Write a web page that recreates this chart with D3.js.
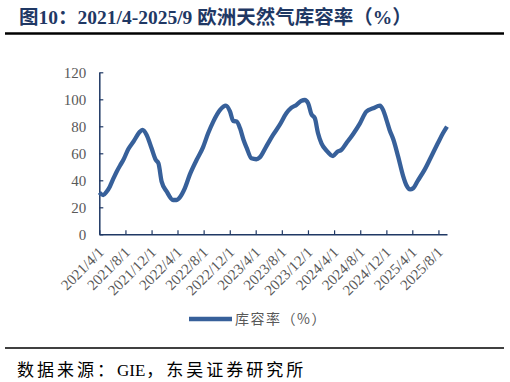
<!DOCTYPE html>
<html>
<head>
<meta charset="utf-8">
<script src="https://cdn.jsdelivr.net/npm/d3@7"></script>
<style>
  body { margin: 0; background: #fff; }
  svg { display: block; }
</style>
</head>
<body>
<div id="chart"></div>
<script>
// storage fill rate readings, %
const dates = [
  '2021-04-01', '2021-04-19', '2021-05-05', '2021-05-20', '2021-06-05', '2021-06-21', '2021-07-07', '2021-07-22',
  '2021-08-14', '2021-09-07', '2021-10-08', '2021-10-20', '2021-11-08', '2021-12-01', '2021-12-21', '2022-01-02',
  '2022-01-17', '2022-02-10', '2022-03-11', '2022-03-27', '2022-04-12', '2022-05-05', '2022-05-28', '2022-06-29',
  '2022-07-29', '2022-08-22', '2022-09-15', '2022-10-16', '2022-11-13', '2022-12-02', '2022-12-17', '2023-01-02',
  '2023-01-18', '2023-02-03', '2023-02-18', '2023-03-12', '2023-04-04', '2023-04-20', '2023-05-20', '2023-06-21',
  '2023-07-22', '2023-08-22', '2023-09-15', '2023-10-08', '2023-11-01', '2023-11-16', '2023-12-02', '2023-12-17',
  '2024-01-02', '2024-01-17', '2024-02-02', '2024-02-26', '2024-03-27', '2024-04-15', '2024-05-05', '2024-05-28',
  '2024-06-29', '2024-07-30', '2024-08-30', '2024-09-30', '2024-11-01', '2024-11-16', '2024-12-01', '2024-12-16',
  '2025-01-03', '2025-01-25', '2025-02-18', '2025-03-04', '2025-03-22', '2025-04-04', '2025-04-27', '2025-05-28',
  '2025-06-28', '2025-07-29', '2025-08-22', '2025-09-10'
];
const values = [
  30.9, 29.0, 31.5, 35.3, 41.0, 46.4, 51.0, 55.0,
  63.0, 68.6, 76.0, 77.3, 73.6, 63.7, 55.0, 52.6,
  39.0, 31.6, 25.4, 25.4, 27.4, 34.0, 44.0, 55.0,
  64.4, 74.8, 83.5, 92.0, 95.3, 91.0, 84.0, 83.5,
  78.5, 70.0, 64.0, 56.3, 55.6, 57.0, 65.0, 73.6,
  81.0, 89.6, 93.8, 95.8, 99.0, 99.5, 97.0, 89.0,
  86.0, 74.8, 67.4, 62.0, 58.0, 61.0, 62.5, 67.4,
  74.3, 82.0, 91.0, 93.3, 95.3, 92.0, 85.0, 77.3,
  70.0, 57.5, 42.7, 36.5, 33.3, 34.0, 39.8, 47.7,
  57.5, 67.4, 74.8, 79.8
];
const xTickLabels = [
  '2021/4/1', '2021/8/1', '2021/12/1', '2022/4/1', '2022/8/1', '2022/12/1', '2023/4/1',
  '2023/8/1', '2023/12/1', '2024/4/1', '2024/8/1', '2024/12/1', '2025/4/1', '2025/8/1'
];
const yTicks = [0, 20, 40, 60, 80, 100, 120];

const titleText = '图10：2021/4-2025/9 欧洲天然气库容率（%）';
const seriesName = '库容率（%）';
const sourceParts = ['数据来源：', 'GIE', '，东吴证券研究所'];

const W = 510, H = 382;
const plot = { left: 99.3, right: 447, top: 72.3, bottom: 234.3 };
const axisColor = '#1f3864';
const lineColor = '#37609a';
const labelColor = '#595959';
const serif = "'Liberation Serif', 'Times New Roman', 'Noto Sans CJK SC', serif";

const parse = d3.timeParse('%Y-%m-%d');
const parseTick = d3.timeParse('%Y/%m/%d');
const data = dates.map((d, i) => ({ date: parse(d), value: values[i] }));

const svg = d3.select('#chart').append('svg')
  .attr('width', W)
  .attr('height', H);

// title + rule
svg.append('text')
  .attr('x', 19)
  .attr('y', 24)
  .attr('font-family', serif)
  .attr('font-weight', 'bold')
  .attr('font-size', 19.5)
  .attr('fill', '#1f3864')
  .text(titleText);

svg.append('line')
  .attr('x1', 5).attr('x2', 504)
  .attr('y1', 33.5).attr('y2', 33.5)
  .attr('stroke', '#000')
  .attr('stroke-width', 2.5);

const x = d3.scaleTime()
  .domain([parse('2021-04-01'), parse('2025-09-10')])
  .range([plot.left, plot.right]);

const y = d3.scaleLinear()
  .domain([0, 120])
  .range([plot.bottom, plot.top]);

// y axis
const yAxis = svg.append('g')
  .attr('transform', 'translate(' + plot.left + ',0)')
  .call(d3.axisLeft(y).tickValues(yTicks).tickSizeInner(-4).tickSizeOuter(0).tickPadding(13));
yAxis.select('.domain').attr('stroke', axisColor).attr('stroke-width', 1.5);
yAxis.selectAll('line').attr('stroke', axisColor).attr('stroke-width', 1.2);
yAxis.selectAll('text')
  .attr('font-family', serif)
  .attr('font-size', 15)
  .attr('fill', labelColor);

// x axis
const xAxis = svg.append('g')
  .attr('transform', 'translate(0,' + plot.bottom + ')')
  .call(d3.axisBottom(x)
    .tickValues(xTickLabels.map(parseTick))
    .tickFormat((d, i) => xTickLabels[i])
    .tickSizeInner(-4).tickSizeOuter(0));
xAxis.select('.domain').attr('stroke', axisColor).attr('stroke-width', 1.5);
xAxis.selectAll('line').attr('stroke', axisColor).attr('stroke-width', 1.2);
xAxis.selectAll('text')
  .attr('font-family', serif)
  .attr('font-size', 15)
  .attr('fill', labelColor)
  .attr('text-anchor', 'end')
  .attr('dy', 0)
  .attr('y', 0)
  .attr('transform', 'translate(5,19) rotate(-45)');

// series line
const line = d3.line()
  .x(d => x(d.date))
  .y(d => y(d.value))
  .curve(d3.curveMonotoneX);

svg.append('path')
  .datum(data)
  .attr('d', line)
  .attr('fill', 'none')
  .attr('stroke', lineColor)
  .attr('stroke-width', 4.3)
  .attr('stroke-linejoin', 'round');

// legend
svg.append('line')
  .attr('x1', 189).attr('x2', 232)
  .attr('y1', 319).attr('y2', 319)
  .attr('stroke', lineColor)
  .attr('stroke-width', 4.3);
svg.append('text')
  .attr('x', 235)
  .attr('y', 324)
  .attr('font-family', "'Noto Sans CJK SC', sans-serif")
  .attr('font-size', 14)
  .attr('letter-spacing', 1.5)
  .attr('fill', labelColor)
  .text(seriesName);

// footer
svg.append('line')
  .attr('x1', 5).attr('x2', 504)
  .attr('y1', 348).attr('y2', 348)
  .attr('stroke', '#000')
  .attr('stroke-width', 1.5);

const source = svg.append('text')
  .attr('x', 17)
  .attr('y', 376)
  .attr('font-family', "'Liberation Serif', 'Noto Sans CJK SC', serif")
  .attr('font-size', 17)
  .attr('fill', '#000');
source.selectAll('tspan')
  .data(sourceParts)
  .enter()
  .append('tspan')
  .attr('letter-spacing', (d, i) => (i === 1 ? 0 : 3))
  .attr('dx', (d, i) => (i === 2 ? 1 : 0))
  .text(d => d);
</script>
</body>
</html>
